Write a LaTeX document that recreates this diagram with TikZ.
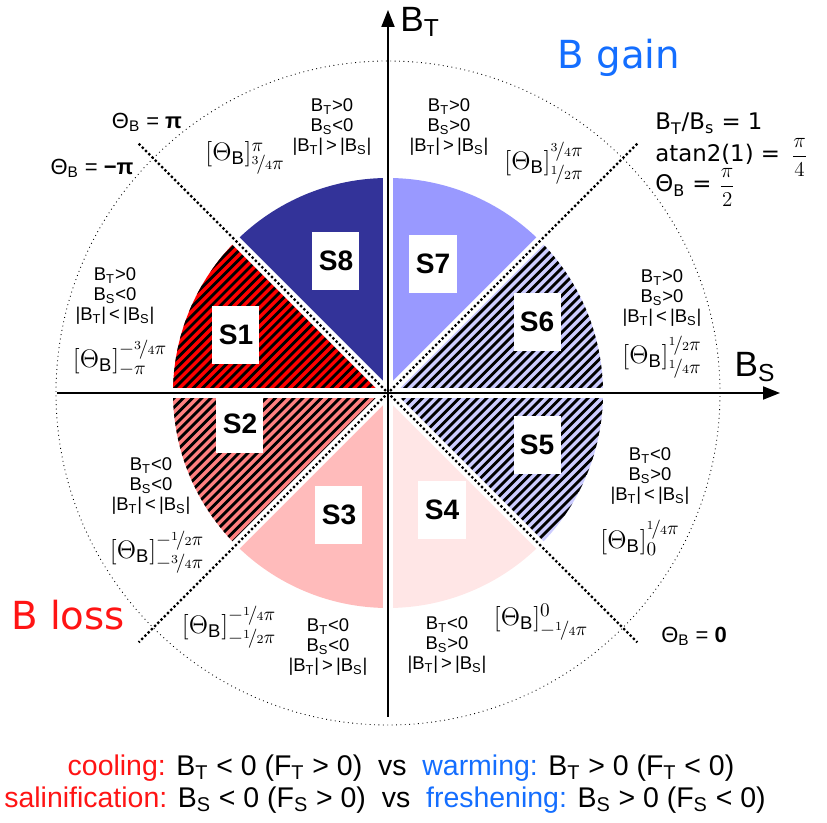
\documentclass[tikz,border=0pt]{standalone}
\usepackage{amsmath}
\usepackage{nicefrac}
\usepackage{fontspec}
\setmainfont{Liberation Sans}
\newfontfamily\verdana{DejaVu Sans}
\usetikzlibrary{arrows.meta}
\definecolor{sone}{RGB}{255,0,0}
\definecolor{stwo}{RGB}{255,128,128}
\definecolor{sthree}{RGB}{255,187,187}
\definecolor{sfour}{RGB}{255,230,230}
\definecolor{sfive}{RGB}{204,204,255}
\definecolor{ssix}{RGB}{204,204,255}
\definecolor{sseven}{RGB}{153,153,255}
\definecolor{seight}{RGB}{51,51,153}
\definecolor{gain}{RGB}{20,110,255}
\definecolor{loss}{RGB}{255,20,20}
\newcommand{\sub}[1]{\textsubscript{#1}}
\newcommand{\ThB}{\Theta_{\mathrm{B}}}
\newcommand{\thrange}[2]{$[\ThB]^{#1}_{#2}$}
\newcommand{\wedgepath}[2]{(0,0) -- (#1:4.3) arc[start angle=#1,end angle=#2,radius=4.3] -- cycle}
\newcommand{\hatchwedge}[2]{%
  \begin{scope}
    \clip \wedgepath{#1}{#2};
    \foreach \c in {-6.2,-6.016,...,6.2}
      \draw[hatch] (\c-5,-5) -- (\c+5,5);
  \end{scope}}

\begin{document}
\begin{tikzpicture}[
  every node/.style={inner sep=0pt},
  hatch/.style={line width=1.6pt,black},
  gapline/.style={white,line width=0.2cm},
  axis/.style={line width=1.1pt,-{Triangle[length=3.4mm,width=2.6mm]}},
  diag/.style={line width=1.3pt,dash pattern=on 1.3pt off 1.3pt},
  slabel/.style={fill=white,minimum width=0.94cm,minimum height=1.16cm,
    font=\bfseries\fontsize{16}{16}\selectfont},
  cond/.style={align=center,font=\fontsize{10.5}{11.4}\selectfont},
  rangelbl/.style={font=\fontsize{15}{17}\selectfont},
  thetalbl/.style={font=\fontsize{12.5}{14}\selectfont},
  gainloss/.style={font=\verdana\fontsize{22}{24}\selectfont},
  bottomtxt/.style={font=\fontsize{16.2}{18}\selectfont}
]
\useasboundingbox (-7.76,-8.6) rectangle (8.78,7.86);

% sectors
\fill[sone]   \wedgepath{135}{180};
\fill[stwo]   \wedgepath{180}{225};
\fill[sthree] \wedgepath{225}{270};
\fill[sfour]  \wedgepath{270}{315};
\fill[sfive]  \wedgepath{315}{360};
\fill[ssix]   \wedgepath{0}{45};
\fill[sseven] \wedgepath{45}{90};
\fill[seight] \wedgepath{90}{135};
% hatching where |BT|<|BS|
\hatchwedge{135}{180}
\hatchwedge{180}{225}
\hatchwedge{315}{360}
\hatchwedge{0}{45}
% white gaps between sectors
\draw[gapline] (-4.4,0) -- (4.4,0);
\draw[gapline] (0,-4.4) -- (0,4.4);
\draw[gapline] (135:4.4) -- (-45:4.4);
\draw[gapline] (45:4.4) -- (225:4.4);

% outer circle and diagonals
\draw[dotted,line width=0.5pt] (0,0) circle[radius=6.64];
\coordinate (nw) at (135:7.05);
\coordinate (se) at (-45:7.05);
\coordinate (ne) at (45:7.05);
\coordinate (sw) at (225:7.05);
\draw[diag] (nw) -- (se);
\draw[diag] (ne) -- (sw);

% axes
\coordinate (xl) at (-6.62,0);
\coordinate (xr) at (7.84,0);
\coordinate (yb) at (0,-6.48);
\coordinate (yt) at (0,7.66);
\draw[axis] (xl) -- (xr);
\draw[axis] (yb) -- (yt);
\node[font=\fontsize{20}{22}\selectfont] (BT) at (0.64,7.42) {B\sub{T}};
\node[font=\fontsize{20}{22}\selectfont] (BS) at (7.34,0.52) {B\sub{S}};

% sector names
\node[slabel] (s1) at (-3.04,1.16) {S1};
\node[slabel] (s2) at (-2.96,-0.62) {S2};
\node[slabel] (s3) at (-0.98,-2.44) {S3};
\node[slabel] (s4) at (1.08,-2.34) {S4};
\node[slabel] (s5) at (2.98,-1.04) {S5};
\node[slabel] (s6) at (2.98,1.42) {S6};
\node[slabel] (s7) at (0.9,2.58) {S7};
\node[slabel] (s8) at (-1.04,2.64) {S8};

% conditions
\node[cond] (c8) at (-1.12,5.32) {B\sub{T}>0\\B\sub{S}<0\\|B\sub{T}|\,>\,|B\sub{S}|};
\node[cond] (c7) at (1.22,5.32) {B\sub{T}>0\\B\sub{S}>0\\|B\sub{T}|\,>\,|B\sub{S}|};
\node[cond] (c6) at (5.48,1.9) {B\sub{T}>0\\B\sub{S}>0\\|B\sub{T}|\,<\,|B\sub{S}|};
\node[cond] (c5) at (5.24,-1.66) {B\sub{T}<0\\B\sub{S}>0\\|B\sub{T}|\,<\,|B\sub{S}|};
\node[cond] (c4) at (1.18,-5.04) {B\sub{T}<0\\B\sub{S}>0\\|B\sub{T}|\,>\,|B\sub{S}|};
\node[cond] (c3) at (-1.2,-5.08) {B\sub{T}<0\\B\sub{S}<0\\|B\sub{T}|\,>\,|B\sub{S}|};
\node[cond] (c2) at (-4.74,-1.86) {B\sub{T}<0\\B\sub{S}<0\\|B\sub{T}|\,<\,|B\sub{S}|};
\node[cond] (c1) at (-5.46,1.94) {B\sub{T}>0\\B\sub{S}<0\\|B\sub{T}|\,<\,|B\sub{S}|};

% angle ranges
\node[rangelbl] (r8) at (-2.86,4.7) {\thrange{\pi}{\nicefrac{3}{4}\pi}};
\node[rangelbl] (r7) at (3.12,4.6) {\thrange{\nicefrac{3}{4}\pi}{\nicefrac{1}{2}\pi}};
\node[rangelbl] (r6) at (5.48,0.72) {\thrange{\nicefrac{1}{2}\pi}{\nicefrac{1}{4}\pi}};
\node[rangelbl] (r5) at (5.04,-2.9) {\thrange{\nicefrac{1}{4}\pi}{0}};
\node[rangelbl] (r4) at (3.06,-4.58) {\thrange{0}{-\nicefrac{1}{4}\pi}};
\node[rangelbl] (r3) at (-3.18,-4.68) {\thrange{-\nicefrac{1}{4}\pi}{-\nicefrac{1}{2}\pi}};
\node[rangelbl] (r2) at (-4.62,-3.18) {\thrange{-\nicefrac{1}{2}\pi}{-\nicefrac{3}{4}\pi}};
\node[rangelbl] (r1) at (-5.36,0.7) {\thrange{-\nicefrac{3}{4}\pi}{-\pi}};

% theta values
\node[thetalbl] (tpi) at (-4.82,5.42) {Θ\sub{B} = \textbf{π}};
\node[thetalbl] (tmpi) at (-5.92,4.5) {Θ\sub{B} = \textbf{−π}};
\node[thetalbl] (tzero) at (6.12,-4.86) {Θ\sub{B} = \textbf{0}};
\node[font=\verdana\fontsize{13}{15}\selectfont,anchor=base west] (ratio) at (5.34,5.26) {B\sub{T}/B\sub{s} = 1};
\node[font=\verdana\fontsize{13}{15}\selectfont,anchor=base west] (atan) at (5.34,4.62) {atan2(1) = \,$\dfrac{\pi}{4}$};
\node[font=\verdana\fontsize{13}{15}\selectfont,anchor=base west] (thalf) at (5.34,4.02) {Θ\sub{B} = $\dfrac{\pi}{2}$};

\node[gainloss,text=gain] (gain) at (4.62,6.7) {B gain};
\node[gainloss,text=loss] (loss) at (-6.4,-4.44) {B loss};

% forcing legend
\node[bottomtxt] (cool) at (0.26,-7.5) {\textcolor{loss}{cooling:} B\sub{T} < 0 (F\sub{T} > 0)~~vs~~\textcolor{gain}{warming:} B\sub{T} > 0 (F\sub{T} < 0)};
\node[bottomtxt] (salt) at (-0.06,-8.14) {\textcolor{loss}{salinification:} B\sub{S} < 0 (F\sub{S} > 0)~~vs~~\textcolor{gain}{freshening:} B\sub{S} > 0 (F\sub{S} < 0)};
\end{tikzpicture}
\end{document}
